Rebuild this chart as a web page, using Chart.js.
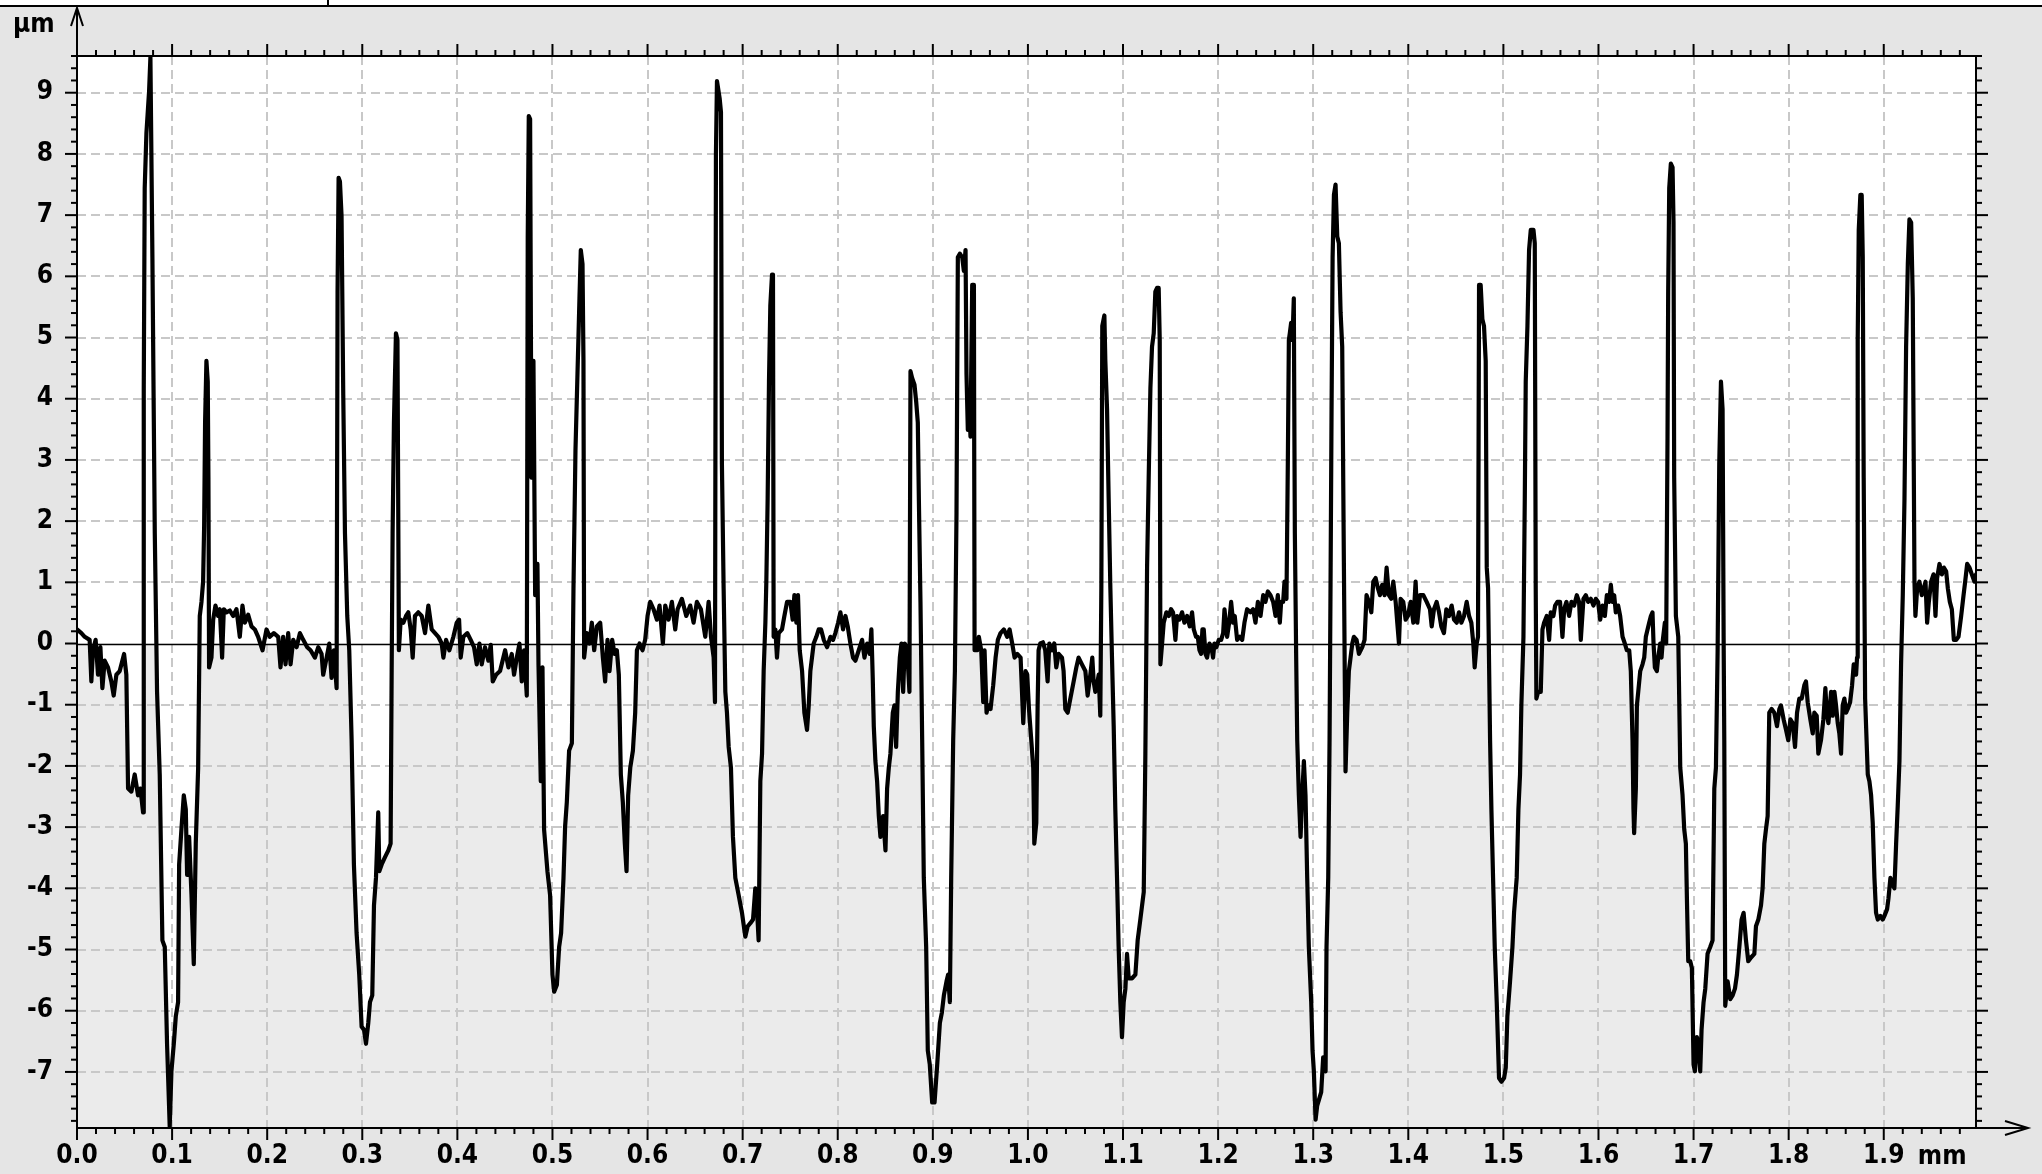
<!DOCTYPE html>
<html>
<head>
<meta charset="utf-8">
<script src="https://cdn.jsdelivr.net/npm/chart.js@4/dist/chart.umd.min.js"></script>
<style>
  html, body { margin: 0; padding: 0; background: #e5e5e5; overflow: hidden; }
  #wrap { width: 2042px; height: 1174px; }
</style>
</head>
<body>
<div id="wrap"><canvas id="c" width="2042" height="1174"></canvas></div>
<script>
// ---- data ----
const xTickValues = [0.0, 0.1, 0.2, 0.3, 0.4, 0.5, 0.6, 0.7, 0.8, 0.9, 1.0, 1.1, 1.2, 1.3, 1.4, 1.5, 1.6, 1.7, 1.8, 1.9];
const yTickValues = [-7, -6, -5, -4, -3, -2, -1, 0, 1, 2, 3, 4, 5, 6, 7, 8, 9];
const xUnit = "mm";
const yUnit = "µm";

const profileX = [
0.0000,0.0046,0.0081,0.0133,0.0151,0.0168,0.0196,0.0221,0.0246,0.0267,0.0291,0.0326,0.0361,0.0386,0.0414,0.0449,0.0495,0.0519,
0.0537,0.0572,0.0607,0.0642,0.0667,0.0695,0.0702,0.0712,0.0730,0.0758,0.0772,0.0793,0.0818,0.0842,0.0870,0.0898,0.0923,0.0947,
0.0975,0.0993,0.1018,0.1039,0.1063,0.1074,0.1098,0.1123,0.1144,0.1158,0.1179,0.1204,0.1228,0.1249,0.1274,0.1291,0.1309,0.1326,
0.1337,0.1347,0.1361,0.1375,0.1382,0.1389,0.1414,0.1432,0.1456,0.1484,0.1502,0.1526,0.1544,0.1572,0.1607,0.1642,0.1677,0.1712,
0.1740,0.1765,0.1800,0.1835,0.1870,0.1905,0.1951,0.1993,0.2028,0.2070,0.2116,0.2140,0.2168,0.2193,0.2221,0.2246,0.2274,0.2309,
0.2344,0.2379,0.2421,0.2456,0.2502,0.2537,0.2572,0.2589,0.2625,0.2653,0.2677,0.2702,0.2730,0.2740,0.2751,0.2765,0.2782,0.2800,
0.2818,0.2842,0.2863,0.2888,0.2912,0.2940,0.2968,0.2993,0.3018,0.3039,0.3063,0.3081,0.3105,0.3123,0.3144,0.3168,0.3179,0.3204,
0.3239,0.3274,0.3298,0.3309,0.3319,0.3333,0.3354,0.3370,0.3385,
0.3404,0.3432,0.3460,0.3484,0.3509,0.3530,0.3554,0.3589,0.3625,0.3660,0.3695,0.3730,0.3765,0.3800,0.3835,0.3853,0.3881,0.3916,
0.3958,0.3993,0.4018,0.4035,0.4063,0.4105,0.4140,0.4175,0.4204,0.4232,0.4256,0.4291,0.4326,0.4351,0.4372,0.4407,0.4449,0.4502,
0.4537,0.4572,0.4596,0.4625,0.4653,0.4677,0.4702,0.4730,0.4740,0.4751,0.4765,0.4779,0.4800,0.4818,0.4842,0.4853,0.4877,0.4895,
0.4912,0.4947,0.4975,0.5000,0.5018,0.5046,0.5070,0.5091,0.5116,0.5133,0.5151,0.5175,0.5204,0.5221,0.5242,0.5263,0.5284,0.5298,
0.5316,0.5326,0.5333,0.5361,0.5389,0.5414,0.5439,0.5467,0.5502,0.5530,0.5554,0.5579,0.5600,0.5628,0.5653,0.5677,0.5698,0.5719,
0.5740,0.5761,0.5779,0.5796,0.5818,0.5846,0.5870,0.5888,0.5916,0.5947,0.5975,0.6000,0.6028,0.6063,0.6098,0.6126,0.6161,0.6186,
0.6221,0.6256,0.6291,0.6316,0.6361,0.6407,0.6449,0.6484,0.6519,0.6561,0.6607,0.6642,0.6667,0.6695,0.6709,0.6719,0.6730,
0.6758,0.6772,0.6782,0.6800,0.6818,0.6835,0.6853,0.6877,0.6898,0.6923,0.6958,0.6993,0.7028,0.7053,0.7081,0.7109,0.7133,0.7151,
0.7168,0.7186,0.7204,0.7221,0.7239,0.7249,0.7263,0.7277,0.7291,0.7309,0.7319,0.7326,0.7344,0.7361,0.7379,0.7414,0.7439,0.7467,
0.7502,0.7526,0.7544,0.7565,0.7582,0.7600,0.7625,0.7649,0.7677,0.7695,0.7712,0.7747,0.7775,0.7800,0.7825,0.7853,0.7888,0.7923,
0.7951,0.7975,0.8004,0.8028,0.8056,0.8081,0.8105,0.8133,0.8161,0.8186,0.8221,0.8256,0.8281,0.8309,0.8337,0.8354,0.8368,0.8379,
0.8396,0.8414,0.8432,0.8449,0.8477,0.8502,0.8519,0.8537,0.8554,0.8579,0.8596,0.8614,0.8632,0.8653,0.8670,0.8688,0.8705,0.8730,
0.8754,0.8765,0.8782,0.8807,0.8825,0.8842,0.8853,0.8870,0.8888,0.8905,0.8930,0.8947,0.8968,0.8993,0.9018,0.9046,0.9074,0.9095,
0.9116,0.9144,0.9161,0.9179,0.9193,0.9214,0.9232,0.9249,0.9263,0.9284,0.9309,0.9326,0.9344,0.9354,0.9368,0.9379,0.9396,0.9414,
0.9432,0.9439,0.9467,0.9484,0.9509,0.9530,0.9544,0.9565,0.9582,0.9607,0.9635,0.9660,0.9684,0.9712,0.9747,0.9782,0.9807,0.9835,
0.9860,0.9888,0.9923,0.9951,0.9975,0.9993,1.0011,1.0035,1.0056,
1.0067,1.0088,1.0102,1.0112,1.0130,1.0158,1.0182,1.0207,1.0225,1.0253,1.0277,1.0298,1.0323,1.0358,1.0375,1.0393,1.0418,1.0446,
1.0481,1.0509,1.0533,1.0568,1.0604,1.0628,1.0656,1.0677,1.0691,1.0709,1.0726,1.0744,1.0761,1.0772,1.0782,1.0804,1.0814,1.0832,
1.0849,1.0867,1.0884,1.0902,1.0919,1.0937,1.0954,1.0972,1.0989,1.1007,1.1025,1.1042,1.1060,1.1095,1.1130,1.1154,1.1182,1.1218,
1.1235,1.1253,1.1270,1.1288,1.1305,1.1323,1.1340,1.1358,1.1375,1.1386,1.1393,1.1411,1.1428,1.1456,1.1481,1.1505,1.1526,1.1551,
1.1568,1.1593,1.1621,1.1646,1.1674,1.1702,1.1726,1.1744,1.1768,1.1786,1.1804,1.1821,1.1835,1.1849,1.1867,1.1884,1.1909,1.1930,
1.1947,1.1961,1.1982,1.2007,1.2032,1.2053,1.2067,1.2095,1.2116,1.2137,1.2158,1.2175,1.2200,1.2228,1.2253,1.2277,1.2305,1.2340,
1.2368,1.2393,1.2418,1.2446,1.2474,1.2498,1.2523,1.2551,1.2579,1.2604,1.2628,1.2649,1.2663,1.2684,1.2698,1.2719,1.2733,1.2744,
1.2754,1.2768,1.2782,1.2796,1.2807,1.2821,1.2832,1.2849,1.2867,1.2884,1.2902,1.2919,1.2937,1.2954,1.2979,1.2993,1.3007,1.3025,
1.3042,1.3063,1.3084,1.3105,1.3130,1.3140,1.3158,1.3172,1.3182,1.3193,1.3204,1.3218,1.3235,1.3253,1.3270,1.3288,1.3305,1.3323,
1.3340,1.3358,1.3375,1.3393,1.3411,
1.3428,1.3456,1.3481,1.3516,1.3540,1.3561,1.3586,1.3611,1.3632,1.3656,1.3681,1.3702,1.3726,1.3751,1.3772,1.3796,1.3821,1.3842,
1.3867,1.3884,1.3902,1.3919,1.3947,1.3972,1.3996,1.4025,1.4053,1.4077,1.4095,1.4123,1.4158,1.4193,1.4228,1.4246,1.4270,1.4298,
1.4323,1.4347,1.4375,1.4400,1.4428,1.4456,1.4481,1.4509,1.4533,1.4558,1.4586,1.4614,1.4639,1.4663,1.4684,1.4698,1.4719,1.4733,
1.4744,1.4761,1.4779,1.4796,1.4814,1.4825,1.4839,1.4860,1.4874,1.4895,1.4909,1.4930,1.4954,1.4979,1.5007,1.5025,1.5042,1.5070,
1.5095,1.5112,1.5140,1.5158,1.5175,1.5189,1.5211,1.5225,1.5235,1.5253,1.5270,1.5288,1.5316,1.5330,1.5340,1.5347,1.5365,1.5393,
1.5411,1.5428,1.5456,1.5481,1.5498,1.5526,1.5544,1.5568,1.5596,1.5621,1.5639,1.5663,1.5691,1.5716,1.5744,1.5772,1.5796,1.5814,
1.5842,1.5867,1.5891,1.5919,1.5947,1.5972,1.5996,1.6018,1.6042,1.6067,1.6088,1.6112,1.6130,1.6147,1.6165,1.6182,1.6207,1.6228,
1.6253,1.6277,1.6298,1.6323,1.6340,1.6358,1.6368,1.6375,1.6393,1.6404,1.6418,1.6439,1.6463,1.6481,1.6498,1.6516,1.6533,1.6551,
1.6568,1.6579,1.6593,1.6614,1.6628,1.6649,1.6663,1.6677,1.6698,1.6712,1.6726,1.6733,1.6744,1.6761,1.6779,1.6789,
1.6796,1.6814,1.6839,1.6860,1.6884,1.6902,1.6919,1.6930,1.6944,1.6965,1.6982,1.7000,1.7014,1.7035,1.7049,1.7070,1.7084,1.7105,
1.7123,1.7147,1.7175,1.7200,1.7218,1.7235,1.7253,1.7270,1.7288,1.7305,1.7316,1.7323,1.7333,1.7358,1.7386,1.7411,1.7435,1.7456,
1.7481,1.7505,1.7526,1.7551,1.7575,1.7604,1.7639,1.7656,1.7681,1.7709,1.7726,1.7744,1.7761,1.7779,1.7796,1.7821,1.7849,1.7877,
1.7902,1.7919,1.7947,1.7972,1.7996,1.8018,1.8042,1.8067,1.8088,1.8112,1.8137,1.8165,1.8182,1.8200,1.8228,1.8253,1.8270,1.8295,
1.8312,1.8340,1.8365,1.8386,1.8400,1.8418,1.8446,1.8463,1.8481,1.8498,1.8516,1.8533,1.8551,1.8568,1.8586,1.8604,1.8621,1.8646,
1.8667,1.8684,1.8709,1.8719,1.8726,1.8737,1.8754,1.8768,1.8779,1.8789,1.8804,1.8832,1.8849,1.8867,1.8884,1.8902,1.8919,1.8937,
1.8965,1.8989,1.9007,1.9035,1.9049,1.9070,1.9095,1.9112,1.9130,1.9147,1.9165,1.9182,1.9200,1.9218,1.9235,1.9253,1.9270,1.9288,
1.9305,1.9323,1.9333,1.9351,1.9375,1.9400,1.9421,1.9439,1.9456,1.9474,1.9498,1.9523,1.9544,1.9561,1.9586,1.9611,1.9632,1.9656,
1.9674,1.9695,1.9716,1.9737,1.9761,1.9786,1.9814,1.9839,1.9856,1.9877,1.9902,1.9926,1.9954,1.9970
];

const profileY = [
0.23,0.17,0.11,0.06,-0.62,-0.11,0.06,-0.51,-0.06,-0.73,-0.28,-0.39,-0.62,-0.85,-0.51,-0.45,-0.17,-0.51,
-2.37,-2.42,-2.14,-2.48,-2.37,-2.76,4.17,7.44,8.34,9.02,9.58,6.31,1.80,-0.79,-2.14,-4.85,-4.96,-6.54,
-7.89,-6.99,-6.54,-6.09,-5.86,-3.61,-3.04,-2.48,-2.71,-3.78,-3.16,-4.11,-5.24,-3.27,-2.03,0.45,0.68,1.01,
1.92,3.61,4.62,4.28,2.71,-0.39,-0.23,0.39,0.62,0.45,0.56,-0.23,0.56,0.51,0.54,0.45,0.56,0.11,
0.62,0.34,0.47,0.28,0.23,0.11,-0.11,0.23,0.11,0.17,0.11,-0.39,0.11,-0.34,0.17,-0.34,0.06,-0.06,
0.17,0.06,-0.06,-0.11,-0.23,-0.06,-0.17,-0.51,-0.23,0.00,-0.56,-0.11,-0.73,5.75,7.61,7.55,6.99,4.06,
1.80,0.45,-0.11,-1.58,-3.61,-4.73,-5.41,-6.26,-6.31,-6.54,-6.20,-5.86,-5.75,-4.28,-3.83,-2.76,-3.72,-3.61,
-3.49,-3.38,-3.27,-0.45,1.80,3.61,5.07,4.96,-0.11,
0.39,0.34,0.45,0.51,0.23,-0.23,0.45,0.51,0.45,0.17,0.62,0.23,0.17,0.11,0.00,-0.23,0.06,-0.11,
0.11,0.34,0.39,-0.23,0.11,0.17,0.06,-0.06,-0.34,0.00,-0.34,-0.06,-0.28,-0.02,-0.62,-0.51,-0.45,-0.11,
-0.39,-0.17,-0.51,-0.23,0.00,-0.62,-0.11,-0.85,6.65,8.62,8.57,2.71,4.62,0.79,1.30,-0.34,-2.25,-0.39,
-3.04,-3.72,-4.11,-5.41,-5.69,-5.58,-4.96,-4.73,-3.83,-2.99,-2.59,-1.75,-1.63,0.90,3.16,4.40,5.64,6.43,
6.20,4.62,-0.23,0.17,0.00,0.34,-0.11,0.28,0.34,-0.23,-0.62,0.06,-0.45,0.06,-0.17,-0.11,-0.51,-2.14,
-2.59,-3.27,-3.72,-2.48,-2.03,-1.75,-1.13,-0.11,0.00,-0.11,0.06,0.45,0.68,0.56,0.39,0.62,0.00,0.62,
0.39,0.68,0.23,0.56,0.73,0.45,0.62,0.34,0.68,0.56,0.11,0.68,0.11,-0.23,-0.96,8.00,9.19,
8.91,8.68,2.93,0.90,-0.79,-1.13,-1.69,-2.03,-3.16,-3.83,-4.11,-4.40,-4.79,-4.62,-4.57,-4.51,-4.00,-4.34,
-4.85,-2.25,-1.80,-0.45,0.34,1.01,2.37,4.28,5.52,6.03,5.98,0.11,0.23,-0.23,0.17,0.23,0.45,0.68,
0.68,0.39,0.79,0.34,0.79,-0.11,-0.45,-1.13,-1.41,-1.01,-0.45,0.00,0.11,0.23,0.23,0.06,-0.06,0.11,
0.06,0.17,0.34,0.51,0.23,0.45,0.28,0.00,-0.23,-0.28,-0.11,0.06,-0.23,0.00,-0.17,0.23,-0.56,-1.35,
-1.92,-2.25,-2.82,-3.16,-2.82,-3.38,-2.37,-2.03,-1.80,-1.13,-1.01,-1.69,-0.79,-0.23,0.00,-0.79,0.00,-0.11,
-0.79,4.45,4.34,4.23,3.95,3.61,2.37,0.68,-1.58,-3.83,-4.96,-6.65,-6.88,-7.50,-7.50,-6.88,-6.20,-6.03,
-5.75,-5.52,-5.41,-5.86,-3.83,-1.58,-0.45,2.14,6.31,6.37,6.31,6.09,6.43,4.40,3.49,4.06,3.38,5.86,
5.86,-0.11,-0.11,0.11,-0.11,-0.96,-0.11,-1.13,-1.01,-1.07,-0.68,-0.23,0.06,0.17,0.23,0.11,0.23,0.00,
-0.23,-0.17,-0.23,-1.30,-0.45,-0.51,-1.07,-1.58,-2.03,
-3.27,-2.93,-1.01,-0.11,0.00,0.02,-0.11,-0.62,0.00,-0.11,0.00,-0.39,-0.17,-0.23,-0.45,-1.07,-1.13,-0.90,
-0.62,-0.39,-0.23,-0.34,-0.45,-0.85,-0.51,-0.23,-0.62,-0.79,-0.68,-0.51,-1.18,0.90,5.19,5.36,4.62,3.83,
2.37,0.90,-0.23,-1.35,-2.71,-3.83,-4.96,-5.86,-6.43,-5.86,-5.64,-5.07,-5.47,-5.47,-5.41,-4.85,-4.51,-4.06,
-1.80,1.24,2.71,4.17,4.85,5.07,5.75,5.81,5.81,4.96,-0.34,0.00,0.34,0.51,0.45,0.56,0.51,0.06,
0.45,0.39,0.51,0.34,0.45,0.28,0.51,0.23,0.11,0.11,-0.11,-0.17,0.23,0.23,-0.17,-0.23,0.00,-0.06,
-0.23,0.00,-0.06,0.06,0.06,0.17,0.56,0.11,0.34,0.68,0.34,0.45,0.06,0.11,0.06,0.34,0.56,0.51,
0.56,0.34,0.68,0.45,0.79,0.68,0.85,0.79,0.68,0.45,0.79,0.34,0.68,0.68,1.01,0.73,2.93,4.96,
5.07,5.24,4.96,5.64,1.80,-0.23,-1.58,-2.48,-3.16,-2.48,-1.92,-2.48,-3.83,-4.96,-5.86,-6.65,-6.99,-7.78,
-7.55,-7.44,-7.33,-6.76,-6.99,-4.96,-3.83,-1.58,0.90,3.83,6.31,7.33,7.50,6.65,6.54,5.41,4.85,1.24,
-2.09,-1.13,-0.45,-0.23,0.00,
0.11,0.06,-0.17,-0.06,0.06,0.79,0.68,0.51,1.01,1.07,0.90,0.79,0.96,0.79,1.24,0.79,0.73,1.01,
0.68,0.34,0.00,0.73,0.68,0.39,0.45,0.68,0.34,1.01,0.34,0.79,0.79,0.68,0.56,0.28,0.56,0.68,
0.51,0.28,0.17,0.56,0.45,0.62,0.39,0.34,0.51,0.34,0.45,0.68,0.45,0.34,0.00,-0.39,0.00,0.11,
5.86,5.86,5.30,5.19,4.62,1.24,0.90,-1.58,-2.71,-4.06,-4.96,-5.86,-7.10,-7.16,-7.10,-6.93,-6.09,-5.52,
-4.96,-4.40,-3.83,-2.71,-2.14,-1.01,0.11,2.37,4.28,5.19,6.43,6.76,6.76,6.54,0.90,-0.90,-0.79,-0.79,
0.23,0.34,0.45,0.06,0.51,0.45,0.62,0.68,0.68,0.11,0.56,0.68,0.45,0.68,0.62,0.79,0.68,0.06,
0.73,0.79,0.68,0.73,0.62,0.73,0.68,0.39,0.62,0.45,0.79,0.68,0.96,0.68,0.79,0.51,0.62,0.45,
0.11,0.00,-0.11,-0.11,-0.45,-1.58,-2.71,-3.10,-2.37,-1.01,-0.79,-0.45,-0.34,-0.23,0.11,0.23,0.34,0.45,
0.51,0.00,-0.39,-0.45,-0.23,0.00,-0.23,0.06,0.34,0.00,3.38,5.75,7.44,7.84,7.78,6.88,
2.71,0.45,0.11,-2.03,-2.48,-3.04,-3.27,-4.17,-5.19,-5.19,-5.30,-6.88,-6.99,-6.43,-6.54,-6.99,-6.31,-5.86,
-5.64,-5.07,-4.96,-4.85,-2.37,-2.03,-0.11,2.93,4.28,3.83,0.11,-1.58,-5.92,-5.52,-5.81,-5.75,-5.64,-5.41,
-4.96,-4.51,-4.40,-4.85,-5.19,-5.13,-5.07,-4.62,-4.51,-4.28,-4.00,-3.27,-3.04,-2.82,-1.13,-1.07,-1.13,-1.35,
-1.07,-1.01,-1.24,-1.41,-1.58,-1.24,-1.30,-1.69,-1.13,-0.90,-0.90,-0.68,-0.62,-0.96,-1.24,-1.47,-1.13,-1.18,
-1.80,-1.58,-1.24,-0.73,-1.13,-1.30,-0.79,-1.18,-0.79,-1.01,-1.30,-1.47,-1.80,-1.01,-0.90,-1.13,-1.07,-0.96,
-0.68,-0.34,-0.51,-0.23,4.96,6.76,7.33,7.33,6.31,2.71,-0.90,-2.14,-2.25,-2.48,-2.93,-3.83,-4.40,-4.51,
-4.45,-4.51,-4.45,-4.34,-4.17,-3.83,-3.95,-4.00,-3.27,-2.65,-1.92,-0.34,0.79,2.37,4.85,6.20,6.93,6.88,
5.64,1.01,0.45,0.90,1.01,0.79,0.90,1.01,0.34,0.68,1.01,1.13,0.45,1.07,1.30,1.13,1.24,1.18,
0.90,0.68,0.56,0.06,0.06,0.11,0.45,0.79,1.01,1.30,1.24,1.13,1.01,1.13
];

// ---- styling ----
const FONT_FAMILY = "'DejaVu Sans Condensed', 'DejaVu Sans', Verdana, sans-serif";
const OUTER_BG = '#e5e5e5';
const INNER_GRAY = '#ebebeb';
const GRID = '#c8c8c8';
const X_MIN = 0, X_MAX = 1.997, Y_MIN = -7.9, Y_MAX = 9.6;

const decor = {
  id: 'decor',
  beforeDraw(chart) {
    const { ctx, chartArea: a, scales: { x, y } } = chart;
    const W = chart.width, H = chart.height;
    ctx.save();
    ctx.fillStyle = OUTER_BG; ctx.fillRect(0, 0, W, H);
    ctx.fillStyle = '#ffffff'; ctx.fillRect(0, 0, W, 5);
    ctx.fillStyle = '#000000';
    ctx.fillRect(0, 5, W, 2);
    ctx.fillRect(327, 0, 2, 6);
    const y0 = y.getPixelForValue(0);
    ctx.fillStyle = '#ffffff'; ctx.fillRect(a.left, a.top, a.width, y0 - a.top);
    ctx.fillStyle = INNER_GRAY; ctx.fillRect(a.left, y0, a.width, a.bottom - y0);
    // white interior of valleys (between the profile and zero, below zero)
    const pts = chart.getDatasetMeta(0).data;
    if (pts.length) {
      ctx.beginPath(); ctx.rect(a.left, y0, a.width, a.bottom - y0); ctx.clip();
      ctx.beginPath(); ctx.moveTo(pts[0].x, y0);
      pts.forEach(p => ctx.lineTo(p.x, p.y));
      ctx.lineTo(pts[pts.length - 1].x, y0); ctx.closePath();
      ctx.fillStyle = '#ffffff'; ctx.fill();
    }
    ctx.restore();
  },
  beforeDatasetsDraw(chart) {
    const { ctx, chartArea: a, scales: { y } } = chart;
    const y0 = Math.round(y.getPixelForValue(0)) + 0.5;
    ctx.save();
    ctx.strokeStyle = '#000'; ctx.lineWidth = 1.6;
    ctx.beginPath(); ctx.moveTo(a.left, y0); ctx.lineTo(a.right, y0); ctx.stroke();
    ctx.restore();
  },
  afterDraw(chart) {
    const { ctx, chartArea: a, scales: { x, y } } = chart;
    ctx.save();
    ctx.strokeStyle = '#000'; ctx.lineWidth = 2; ctx.lineCap = 'butt';
    const L = a.left, R = a.right, T = a.top, B = a.bottom;
    // frame: top and right borders
    ctx.beginPath();
    ctx.moveTo(L, T); ctx.lineTo(R, T); ctx.lineTo(R, B + 1);
    ctx.stroke();
    // y axis with arrow
    ctx.beginPath(); ctx.moveTo(L, B + 1); ctx.lineTo(L, 8); ctx.stroke();
    ctx.beginPath(); ctx.moveTo(L - 6, 26); ctx.lineTo(L, 8); ctx.lineTo(L + 6, 26); ctx.stroke();
    // x axis with arrow
    ctx.beginPath(); ctx.moveTo(L - 1, B + 1); ctx.lineTo(2028, B + 1); ctx.stroke();
    ctx.beginPath(); ctx.moveTo(2005, B - 6); ctx.lineTo(2028, B + 1); ctx.lineTo(2005, B + 8); ctx.stroke();
    // minor / major tick marks on all four sides
    for (let i = 0; i * 0.02 < X_MAX; i++) {
      const px = x.getPixelForValue(i * 0.02);
      const len = (i % 5 === 0) ? 12 : 6;
      ctx.beginPath(); ctx.moveTo(px, B + 1); ctx.lineTo(px, B + 1 + len); ctx.stroke();
      ctx.beginPath(); ctx.moveTo(px, T); ctx.lineTo(px, T - len); ctx.stroke();
    }
    for (let i = -39; i <= 48; i++) {
      const py = y.getPixelForValue(i * 0.2);
      const len = (i % 5 === 0) ? 12 : 6;
      ctx.beginPath(); ctx.moveTo(L, py); ctx.lineTo(L - len, py); ctx.stroke();
      ctx.beginPath(); ctx.moveTo(R, py); ctx.lineTo(R + len, py); ctx.stroke();
    }
    // unit labels
    ctx.fillStyle = '#000';
    ctx.font = 'bold 26px ' + FONT_FAMILY;
    ctx.textAlign = 'left'; ctx.textBaseline = 'middle';
    ctx.fillText(yUnit, 13, 25);
    const last = xTickValues[xTickValues.length - 1];
    ctx.fillText(xUnit, x.getPixelForValue(last) + 34, 1157);
    ctx.restore();
  }
};

const ctx = document.getElementById('c').getContext('2d');
new Chart(ctx, {
  type: 'line',
  data: {
    datasets: [{
      data: profileX.map((v, i) => ({ x: v, y: profileY[i] })),
      borderColor: '#000000',
      borderWidth: 4.2,
      pointRadius: 0,
      fill: false,
      tension: 0,
      borderJoinStyle: 'round',
      borderCapStyle: 'round'
    }]
  },
  options: {
    responsive: false,
    devicePixelRatio: 1,
    animation: false,
    events: [],
    layout: { padding: { left: 0, top: 56, right: 66, bottom: 0 } },
    plugins: { legend: { display: false }, tooltip: { enabled: false } },
    scales: {
      x: {
        type: 'linear', min: X_MIN, max: X_MAX,
        afterBuildTicks: s => { s.ticks = xTickValues.map(v => ({ value: v })); },
        afterFit: s => { s.height = 47; },
        grid: { color: GRID, lineWidth: 2, drawTicks: false },
        border: { display: false, dash: [9, 5] },
        ticks: {
          autoSkip: false, maxRotation: 0, padding: 14, color: '#000',
          font: { family: FONT_FAMILY, size: 26, weight: 'bold' },
          callback: v => Number(v).toFixed(1)
        }
      },
      y: {
        type: 'linear', min: Y_MIN, max: Y_MAX,
        afterBuildTicks: s => { s.ticks = yTickValues.map(v => ({ value: v })); },
        afterFit: s => { s.width = 77; },
        grid: { color: c => (c.tick && c.tick.value === 0) ? 'rgba(0,0,0,0)' : GRID, lineWidth: 2, drawTicks: false },
        border: { display: false, dash: [9, 5] },
        ticks: {
          autoSkip: false, padding: 24, color: '#000',
          font: { family: FONT_FAMILY, size: 26, weight: 'bold' },
          callback: v => String(v)
        }
      }
    }
  },
  plugins: [decor]
});
</script>
</body>
</html>
